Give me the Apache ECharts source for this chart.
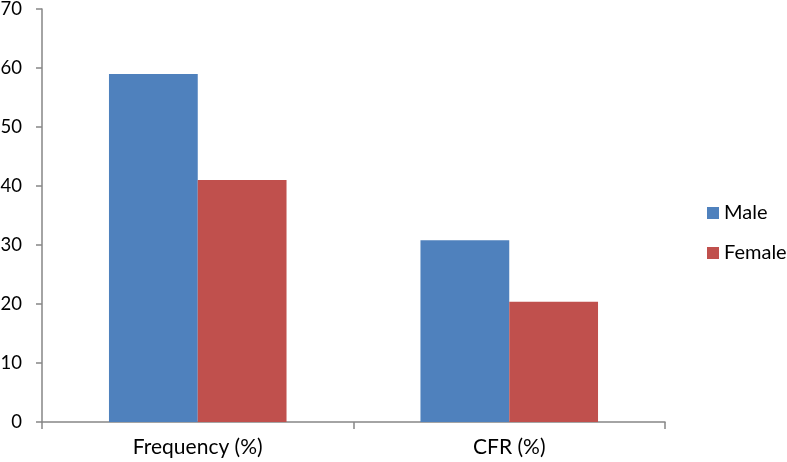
<!DOCTYPE html>
<html><head><meta charset="utf-8">
<script src="https://cdn.jsdelivr.net/npm/echarts@6/dist/echarts.min.js"></script>
<style>html,body{margin:0;padding:0;background:#fff}#c{width:787px;height:462px}</style>
</head><body><div id="c"></div>
<script>
const categories = ['Frequency (%)', 'CFR (%)'];
const maleValues = [59, 30.8];
const femaleValues = [41, 20.4];
const seriesNames = ['Male', 'Female'];
const yTicks = [0, 10, 20, 30, 40, 50, 60, 70];

const font = 'Lato, "Open Sans", sans-serif';
const chart = echarts.init(document.getElementById('c'), null, {renderer: 'canvas'});
chart.setOption({
  animation: false,
  backgroundColor: '#fff',
  grid: {left: 42, right: 122, top: 9, bottom: 40, containLabel: false, outerBoundsMode: 'none'},
  legend: {
    orient: 'vertical', left: 702, top: 198, itemWidth: 12, itemHeight: 12, itemGap: 20,
    icon: 'rect',
    textStyle: {fontFamily: font, fontSize: 20, color: '#000'},
    data: seriesNames
  },
  xAxis: {
    type: 'category', data: categories,
    axisLine: {lineStyle: {color: '#868686', width: 1.5}},
    axisTick: {show: true, length: 7, lineStyle: {color: '#868686', width: 1.5}},
    axisLabel: {fontFamily: font, fontSize: 21, color: '#000', margin: 15}
  },
  yAxis: {
    type: 'value', min: yTicks[0], max: yTicks[yTicks.length - 1], interval: 10,
    axisLine: {show: true, lineStyle: {color: '#868686', width: 1.5}},
    axisTick: {show: true, length: 6, lineStyle: {color: '#868686', width: 1.5}},
    splitLine: {show: false},
    axisLabel: {fontFamily: font, fontSize: 18.5, color: '#000', margin: 20}
  },
  series: [
    {name: seriesNames[0], type: 'bar', data: maleValues, itemStyle: {color: '#4F81BD'}, barGap: '0%', barCategoryGap: '43%'},
    {name: seriesNames[1], type: 'bar', data: femaleValues, itemStyle: {color: '#C0504D'}, barGap: '0%', barCategoryGap: '43%'}
  ]
});
</script></body></html>
